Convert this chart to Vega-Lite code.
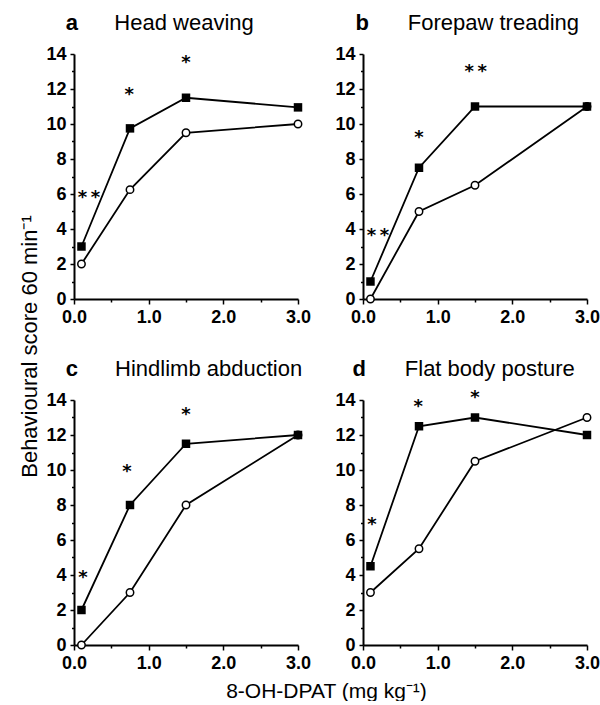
{
  "$schema": "https://vega.github.io/schema/vega-lite/v6.json",
  "background": "white",
  "padding": {"left": 18, "top": 11, "right": 0, "bottom": 0},
  "datasets": {
    "pts": [
      {"panel": "a", "group": "control", "dose": 0.1, "score": 2},
      {"panel": "a", "group": "control", "dose": 0.75, "score": 6.25},
      {"panel": "a", "group": "control", "dose": 1.5, "score": 9.5},
      {"panel": "a", "group": "control", "dose": 3.0, "score": 10},
      {"panel": "a", "group": "treated", "dose": 0.1, "score": 3},
      {"panel": "a", "group": "treated", "dose": 0.75, "score": 9.75},
      {"panel": "a", "group": "treated", "dose": 1.5, "score": 11.5},
      {"panel": "a", "group": "treated", "dose": 3.0, "score": 10.95},
      {"panel": "b", "group": "control", "dose": 0.1, "score": 0},
      {"panel": "b", "group": "control", "dose": 0.75, "score": 5},
      {"panel": "b", "group": "control", "dose": 1.5, "score": 6.5},
      {"panel": "b", "group": "control", "dose": 3.0, "score": 11},
      {"panel": "b", "group": "treated", "dose": 0.1, "score": 1},
      {"panel": "b", "group": "treated", "dose": 0.75, "score": 7.5},
      {"panel": "b", "group": "treated", "dose": 1.5, "score": 11},
      {"panel": "b", "group": "treated", "dose": 3.0, "score": 11},
      {"panel": "c", "group": "control", "dose": 0.1, "score": 0},
      {"panel": "c", "group": "control", "dose": 0.75, "score": 3},
      {"panel": "c", "group": "control", "dose": 1.5, "score": 8},
      {"panel": "c", "group": "control", "dose": 3.0, "score": 12},
      {"panel": "c", "group": "treated", "dose": 0.1, "score": 2},
      {"panel": "c", "group": "treated", "dose": 0.75, "score": 8},
      {"panel": "c", "group": "treated", "dose": 1.5, "score": 11.5},
      {"panel": "c", "group": "treated", "dose": 3.0, "score": 12},
      {"panel": "d", "group": "control", "dose": 0.1, "score": 3},
      {"panel": "d", "group": "control", "dose": 0.75, "score": 5.5},
      {"panel": "d", "group": "control", "dose": 1.5, "score": 10.5},
      {"panel": "d", "group": "control", "dose": 3.0, "score": 13},
      {"panel": "d", "group": "treated", "dose": 0.1, "score": 4.5},
      {"panel": "d", "group": "treated", "dose": 0.75, "score": 12.5},
      {"panel": "d", "group": "treated", "dose": 1.5, "score": 13},
      {"panel": "d", "group": "treated", "dose": 3.0, "score": 12}
    ],
    "stars": [
      {"panel": "a", "dose": 0.2, "score": 6.03, "text": "*\u2009*"},
      {"panel": "a", "dose": 0.74, "score": 11.93, "text": "*"},
      {"panel": "a", "dose": 1.5, "score": 13.76, "text": "*"},
      {"panel": "b", "dose": 0.2, "score": 3.86, "text": "*\u2009*"},
      {"panel": "b", "dose": 0.75, "score": 9.46, "text": "*"},
      {"panel": "b", "dose": 1.51, "score": 13.28, "text": "*\u2009*"},
      {"panel": "c", "dose": 0.12, "score": 4.1, "text": "*"},
      {"panel": "c", "dose": 0.71, "score": 10.2, "text": "*"},
      {"panel": "c", "dose": 1.5, "score": 13.43, "text": "*"},
      {"panel": "d", "dose": 0.12, "score": 7.12, "text": "*"},
      {"panel": "d", "dose": 0.74, "score": 13.9, "text": "*"},
      {"panel": "d", "dose": 1.5, "score": 14.38, "text": "*"}
    ],
    "labs": [
      {"panel": "a", "kind": "letter", "dose": -0.03, "score": 15.4, "text": "a"},
      {"panel": "a", "kind": "name", "dose": 0.54, "score": 15.4, "text": "Head weaving"},
      {"panel": "b", "kind": "letter", "dose": -0.01, "score": 15.4, "text": "b"},
      {"panel": "b", "kind": "name", "dose": 0.6, "score": 15.4, "text": "Forepaw treading"},
      {"panel": "c", "kind": "letter", "dose": -0.03, "score": 15.4, "text": "c"},
      {"panel": "c", "kind": "name", "dose": 0.55, "score": 15.4, "text": "Hindlimb abduction"},
      {"panel": "d", "kind": "letter", "dose": -0.05, "score": 15.4, "text": "d"},
      {"panel": "d", "kind": "name", "dose": 0.56, "score": 15.4, "text": "Flat body posture"}
    ]
  },
  "columns": 2,
  "bounds": "flush",
  "spacing": {"row": 101, "column": 65},
  "concat": [
    {
      "width": 224, "height": 245,
      "layer": [
        {"data": {"name": "pts"}, "transform": [{"filter": "datum.panel === 'a'"}],
         "mark": {"type": "line", "color": "black", "strokeWidth": 1.8},
         "encoding": {
           "x": {"field": "dose", "type": "quantitative", "scale": {"domain": [0, 3], "nice": false},
                 "axis": {"title": null, "tickCount": 20, "values": [0, 0.5, 1, 1.5, 2, 2.5, 3], "labelExpr": "datum.value % 1 === 0 ? format(datum.value, '.1f') : ''", "labelFontSize": {"condition": {"test": "datum.value % 1 === 0", "value": 18}, "value": 0}, "tickSize": {"condition": {"test": "datum.value % 1 === 0", "value": 5}, "value": 3}, "labelFlush": false, "labelOverlap": false}},
           "y": {"field": "score", "type": "quantitative", "scale": {"domain": [0, 14], "nice": false},
                 "axis": {"title": "Behavioural score 60 min\u207b\u00b9", "titleY": 292, "titlePadding": 4, "titleLimit": 500, "tickCount": 20, "values": [0, 1, 2, 3, 4, 5, 6, 7, 8, 9, 10, 11, 12, 13, 14], "labelExpr": "datum.value % 2 === 0 ? format(datum.value, 'd') : ''", "labelFontSize": {"condition": {"test": "datum.value % 2 === 0", "value": 18}, "value": 0}, "tickSize": {"condition": {"test": "datum.value % 2 === 0", "value": 4}, "value": 2.5}, "labelOverlap": false}},
           "detail": {"field": "group"}
         }},
        {"data": {"name": "pts"}, "transform": [{"filter": "datum.panel === 'a' && datum.group === 'control'"}],
         "mark": {"type": "point", "shape": "circle", "filled": true, "fill": "white", "stroke": "black", "strokeWidth": 1.5, "size": 55, "opacity": 1},
         "encoding": {"x": {"field": "dose", "type": "quantitative"}, "y": {"field": "score", "type": "quantitative"}}},
        {"data": {"name": "pts"}, "transform": [{"filter": "datum.panel === 'a' && datum.group === 'treated'"}],
         "mark": {"type": "point", "shape": "square", "filled": true, "color": "black", "size": 72, "opacity": 1},
         "encoding": {"x": {"field": "dose", "type": "quantitative"}, "y": {"field": "score", "type": "quantitative"}}},
        {"data": {"name": "stars"}, "transform": [{"filter": "datum.panel === 'a'"}],
         "mark": {"type": "text", "font": "DejaVu Sans", "fontWeight": "bold", "fontSize": 18, "align": "center", "baseline": "alphabetic", "dy": 10, "color": "black"},
         "encoding": {"x": {"field": "dose", "type": "quantitative"}, "y": {"field": "score", "type": "quantitative"}, "text": {"field": "text"}}},
        {"data": {"name": "labs"}, "transform": [{"filter": "datum.panel === 'a' && datum.kind === 'letter'"}],
         "mark": {"type": "text", "fontSize": 22, "fontWeight": "bold", "align": "center", "baseline": "alphabetic", "color": "black"},
         "encoding": {"x": {"field": "dose", "type": "quantitative"}, "y": {"field": "score", "type": "quantitative"}, "text": {"field": "text"}}},
        {"data": {"name": "labs"}, "transform": [{"filter": "datum.panel === 'a' && datum.kind === 'name'"}],
         "mark": {"type": "text", "fontSize": 22, "align": "left", "baseline": "alphabetic", "color": "black"},
         "encoding": {"x": {"field": "dose", "type": "quantitative"}, "y": {"field": "score", "type": "quantitative"}, "text": {"field": "text"}}}
      ]
    },
    {
      "width": 224, "height": 245,
      "layer": [
        {"data": {"name": "pts"}, "transform": [{"filter": "datum.panel === 'b'"}],
         "mark": {"type": "line", "color": "black", "strokeWidth": 1.8},
         "encoding": {
           "x": {"field": "dose", "type": "quantitative", "scale": {"domain": [0, 3], "nice": false},
                 "axis": {"title": null, "tickCount": 20, "values": [0, 0.5, 1, 1.5, 2, 2.5, 3], "labelExpr": "datum.value % 1 === 0 ? format(datum.value, '.1f') : ''", "labelFontSize": {"condition": {"test": "datum.value % 1 === 0", "value": 18}, "value": 0}, "tickSize": {"condition": {"test": "datum.value % 1 === 0", "value": 5}, "value": 3}, "labelFlush": false, "labelOverlap": false}},
           "y": {"field": "score", "type": "quantitative", "scale": {"domain": [0, 14], "nice": false},
                 "axis": {"title": null, "tickCount": 20, "values": [0, 1, 2, 3, 4, 5, 6, 7, 8, 9, 10, 11, 12, 13, 14], "labelExpr": "datum.value % 2 === 0 ? format(datum.value, 'd') : ''", "labelFontSize": {"condition": {"test": "datum.value % 2 === 0", "value": 18}, "value": 0}, "tickSize": {"condition": {"test": "datum.value % 2 === 0", "value": 4}, "value": 2.5}, "labelOverlap": false}},
           "detail": {"field": "group"}
         }},
        {"data": {"name": "pts"}, "transform": [{"filter": "datum.panel === 'b' && datum.group === 'control'"}],
         "mark": {"type": "point", "shape": "circle", "filled": true, "fill": "white", "stroke": "black", "strokeWidth": 1.5, "size": 55, "opacity": 1},
         "encoding": {"x": {"field": "dose", "type": "quantitative"}, "y": {"field": "score", "type": "quantitative"}}},
        {"data": {"name": "pts"}, "transform": [{"filter": "datum.panel === 'b' && datum.group === 'treated'"}],
         "mark": {"type": "point", "shape": "square", "filled": true, "color": "black", "size": 72, "opacity": 1},
         "encoding": {"x": {"field": "dose", "type": "quantitative"}, "y": {"field": "score", "type": "quantitative"}}},
        {"data": {"name": "stars"}, "transform": [{"filter": "datum.panel === 'b'"}],
         "mark": {"type": "text", "font": "DejaVu Sans", "fontWeight": "bold", "fontSize": 18, "align": "center", "baseline": "alphabetic", "dy": 10, "color": "black"},
         "encoding": {"x": {"field": "dose", "type": "quantitative"}, "y": {"field": "score", "type": "quantitative"}, "text": {"field": "text"}}},
        {"data": {"name": "labs"}, "transform": [{"filter": "datum.panel === 'b' && datum.kind === 'letter'"}],
         "mark": {"type": "text", "fontSize": 22, "fontWeight": "bold", "align": "center", "baseline": "alphabetic", "color": "black"},
         "encoding": {"x": {"field": "dose", "type": "quantitative"}, "y": {"field": "score", "type": "quantitative"}, "text": {"field": "text"}}},
        {"data": {"name": "labs"}, "transform": [{"filter": "datum.panel === 'b' && datum.kind === 'name'"}],
         "mark": {"type": "text", "fontSize": 22, "align": "left", "baseline": "alphabetic", "color": "black"},
         "encoding": {"x": {"field": "dose", "type": "quantitative"}, "y": {"field": "score", "type": "quantitative"}, "text": {"field": "text"}}}
      ]
    },
    {
      "width": 224, "height": 245,
      "layer": [
        {"data": {"name": "pts"}, "transform": [{"filter": "datum.panel === 'c'"}],
         "mark": {"type": "line", "color": "black", "strokeWidth": 1.8},
         "encoding": {
           "x": {"field": "dose", "type": "quantitative", "scale": {"domain": [0, 3], "nice": false},
                 "axis": {"title": "8-OH-DPAT (mg kg\u207b\u00b9)", "titleX": 252, "titleFontSize": 21, "titlePadding": 8, "titleLimit": 500, "tickCount": 20, "values": [0, 0.5, 1, 1.5, 2, 2.5, 3], "labelExpr": "datum.value % 1 === 0 ? format(datum.value, '.1f') : ''", "labelFontSize": {"condition": {"test": "datum.value % 1 === 0", "value": 18}, "value": 0}, "tickSize": {"condition": {"test": "datum.value % 1 === 0", "value": 5}, "value": 3}, "labelFlush": false, "labelOverlap": false}},
           "y": {"field": "score", "type": "quantitative", "scale": {"domain": [0, 14], "nice": false},
                 "axis": {"title": null, "tickCount": 20, "values": [0, 1, 2, 3, 4, 5, 6, 7, 8, 9, 10, 11, 12, 13, 14], "labelExpr": "datum.value % 2 === 0 ? format(datum.value, 'd') : ''", "labelFontSize": {"condition": {"test": "datum.value % 2 === 0", "value": 18}, "value": 0}, "tickSize": {"condition": {"test": "datum.value % 2 === 0", "value": 4}, "value": 2.5}, "labelOverlap": false}},
           "detail": {"field": "group"}
         }},
        {"data": {"name": "pts"}, "transform": [{"filter": "datum.panel === 'c' && datum.group === 'control'"}],
         "mark": {"type": "point", "shape": "circle", "filled": true, "fill": "white", "stroke": "black", "strokeWidth": 1.5, "size": 55, "opacity": 1},
         "encoding": {"x": {"field": "dose", "type": "quantitative"}, "y": {"field": "score", "type": "quantitative"}}},
        {"data": {"name": "pts"}, "transform": [{"filter": "datum.panel === 'c' && datum.group === 'treated'"}],
         "mark": {"type": "point", "shape": "square", "filled": true, "color": "black", "size": 72, "opacity": 1},
         "encoding": {"x": {"field": "dose", "type": "quantitative"}, "y": {"field": "score", "type": "quantitative"}}},
        {"data": {"name": "stars"}, "transform": [{"filter": "datum.panel === 'c'"}],
         "mark": {"type": "text", "font": "DejaVu Sans", "fontWeight": "bold", "fontSize": 18, "align": "center", "baseline": "alphabetic", "dy": 10, "color": "black"},
         "encoding": {"x": {"field": "dose", "type": "quantitative"}, "y": {"field": "score", "type": "quantitative"}, "text": {"field": "text"}}},
        {"data": {"name": "labs"}, "transform": [{"filter": "datum.panel === 'c' && datum.kind === 'letter'"}],
         "mark": {"type": "text", "fontSize": 22, "fontWeight": "bold", "align": "center", "baseline": "alphabetic", "color": "black"},
         "encoding": {"x": {"field": "dose", "type": "quantitative"}, "y": {"field": "score", "type": "quantitative"}, "text": {"field": "text"}}},
        {"data": {"name": "labs"}, "transform": [{"filter": "datum.panel === 'c' && datum.kind === 'name'"}],
         "mark": {"type": "text", "fontSize": 22, "align": "left", "baseline": "alphabetic", "color": "black"},
         "encoding": {"x": {"field": "dose", "type": "quantitative"}, "y": {"field": "score", "type": "quantitative"}, "text": {"field": "text"}}}
      ]
    },
    {
      "width": 224, "height": 245,
      "layer": [
        {"data": {"name": "pts"}, "transform": [{"filter": "datum.panel === 'd'"}],
         "mark": {"type": "line", "color": "black", "strokeWidth": 1.8},
         "encoding": {
           "x": {"field": "dose", "type": "quantitative", "scale": {"domain": [0, 3], "nice": false},
                 "axis": {"title": null, "tickCount": 20, "values": [0, 0.5, 1, 1.5, 2, 2.5, 3], "labelExpr": "datum.value % 1 === 0 ? format(datum.value, '.1f') : ''", "labelFontSize": {"condition": {"test": "datum.value % 1 === 0", "value": 18}, "value": 0}, "tickSize": {"condition": {"test": "datum.value % 1 === 0", "value": 5}, "value": 3}, "labelFlush": false, "labelOverlap": false}},
           "y": {"field": "score", "type": "quantitative", "scale": {"domain": [0, 14], "nice": false},
                 "axis": {"title": null, "tickCount": 20, "values": [0, 1, 2, 3, 4, 5, 6, 7, 8, 9, 10, 11, 12, 13, 14], "labelExpr": "datum.value % 2 === 0 ? format(datum.value, 'd') : ''", "labelFontSize": {"condition": {"test": "datum.value % 2 === 0", "value": 18}, "value": 0}, "tickSize": {"condition": {"test": "datum.value % 2 === 0", "value": 4}, "value": 2.5}, "labelOverlap": false}},
           "detail": {"field": "group"}
         }},
        {"data": {"name": "pts"}, "transform": [{"filter": "datum.panel === 'd' && datum.group === 'control'"}],
         "mark": {"type": "point", "shape": "circle", "filled": true, "fill": "white", "stroke": "black", "strokeWidth": 1.5, "size": 55, "opacity": 1},
         "encoding": {"x": {"field": "dose", "type": "quantitative"}, "y": {"field": "score", "type": "quantitative"}}},
        {"data": {"name": "pts"}, "transform": [{"filter": "datum.panel === 'd' && datum.group === 'treated'"}],
         "mark": {"type": "point", "shape": "square", "filled": true, "color": "black", "size": 72, "opacity": 1},
         "encoding": {"x": {"field": "dose", "type": "quantitative"}, "y": {"field": "score", "type": "quantitative"}}},
        {"data": {"name": "stars"}, "transform": [{"filter": "datum.panel === 'd'"}],
         "mark": {"type": "text", "font": "DejaVu Sans", "fontWeight": "bold", "fontSize": 18, "align": "center", "baseline": "alphabetic", "dy": 10, "color": "black"},
         "encoding": {"x": {"field": "dose", "type": "quantitative"}, "y": {"field": "score", "type": "quantitative"}, "text": {"field": "text"}}},
        {"data": {"name": "labs"}, "transform": [{"filter": "datum.panel === 'd' && datum.kind === 'letter'"}],
         "mark": {"type": "text", "fontSize": 22, "fontWeight": "bold", "align": "center", "baseline": "alphabetic", "color": "black"},
         "encoding": {"x": {"field": "dose", "type": "quantitative"}, "y": {"field": "score", "type": "quantitative"}, "text": {"field": "text"}}},
        {"data": {"name": "labs"}, "transform": [{"filter": "datum.panel === 'd' && datum.kind === 'name'"}],
         "mark": {"type": "text", "fontSize": 22, "align": "left", "baseline": "alphabetic", "color": "black"},
         "encoding": {"x": {"field": "dose", "type": "quantitative"}, "y": {"field": "score", "type": "quantitative"}, "text": {"field": "text"}}}
      ]
    }
  ],
  "config": {
    "view": {"stroke": null},
    "font": "Liberation Sans",
    "text": {"font": "Liberation Sans"},
    "axis": {
      "grid": false,
      "domainColor": "black", "domainWidth": 2,
      "tickColor": "black", "tickWidth": 1.5,
      "labelColor": "black", "labelFont": "Liberation Sans", "labelFontSize": 18, "labelFontWeight": "bold", "labelPadding": 4,
      "titleColor": "black", "titleFont": "Liberation Sans", "titleFontSize": 22, "titleFontWeight": "normal"
    }
  }
}
